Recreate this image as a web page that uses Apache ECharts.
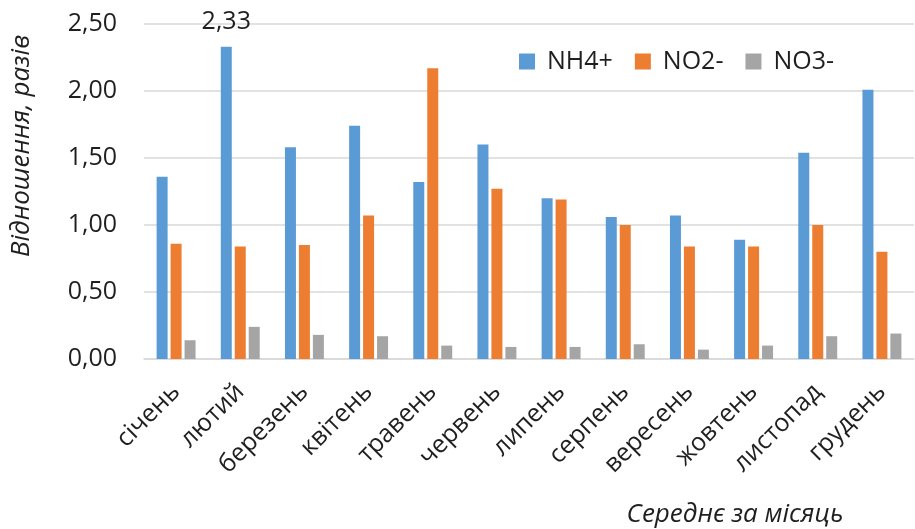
<!DOCTYPE html>
<html>
<head>
<meta charset="utf-8">
<script src="https://cdn.jsdelivr.net/npm/echarts@6/dist/echarts.min.js"></script>
<style>
html,body{margin:0;padding:0;background:#fff;}
#c{width:915px;height:529px;}
</style>
</head>
<body>
<div id="c"></div>
<script>
var months = ['січень','лютий','березень','квітень','травень','червень','липень','серпень','вересень','жовтень','листопад','грудень'];
var nh4 = [1.36, 2.33, 1.58, 1.74, 1.32, 1.60, 1.20, 1.06, 1.07, 0.89, 1.54, 2.01];
var no2 = [0.86, 0.84, 0.85, 1.07, 2.17, 1.27, 1.19, 1.00, 0.84, 0.84, 1.00, 0.80];
var no3 = [0.14, 0.24, 0.18, 0.17, 0.10, 0.09, 0.09, 0.11, 0.07, 0.10, 0.17, 0.19];
var yTickLabels = ['0,00','0,50','1,00','1,50','2,00','2,50'];
var seriesNames = ['NH4+','NO2-','NO3-'];
var labelledIndex = 1;

var FONT = 'Open Sans';
var TXT = '#1f1f1f';
var chart = echarts.init(document.getElementById('c'), null, {renderer:'canvas'});

function fmt(v){ return v.toFixed(2).replace('.', ','); }

var option = {
  animation: false,
  color: ['#5b9bd5','#ed7d31','#a5a5a5'],
  grid: {left:144, right:1, top:24, bottom:170, containLabel:false},
  legend: {
    left: 514, top: 44,
    itemWidth: 16, itemHeight: 16, itemGap: 22,
    icon: 'rect',
    data: seriesNames,
    textStyle: {fontFamily: FONT, fontSize: 25, color: TXT, padding:[0,0,0,7]}
  },
  xAxis: {
    type: 'category',
    data: months,
    axisLine: {lineStyle:{color:'#d9d9d9', width:1.5}},
    axisTick: {show:false},
    axisLabel: {rotate:45, fontFamily: FONT, fontSize:25, color:TXT, margin:29, interval:0}
  },
  yAxis: {
    type: 'value',
    min: 0, max: 2.5, interval: 0.5,
    axisLine: {show:false},
    axisTick: {show:false},
    splitLine: {lineStyle:{color:'#d9d9d9', width:1.5}},
    axisLabel: {fontFamily: FONT, fontSize:25, color:TXT, margin:27,
      formatter: function(v){ return yTickLabels[Math.round(v/0.5)]; }}
  },
  graphic: [
    {type:'text', x:22, y:146, rotation:Math.PI/2,
     style:{text:'Відношення, разів', font:'italic 26px "Open Sans"', fill:TXT, textAlign:'center', textVerticalAlign:'middle'}},
    {type:'text', x:735, y:515,
     style:{text:'Середнє за місяць', font:'italic 26px "Open Sans"', fill:TXT, textAlign:'center', textVerticalAlign:'middle'}}
  ],
  series: [
    {name:seriesNames[0], type:'bar', barWidth:11, barGap:'27%',
     data: nh4.map(function(v,i){ return i===labelledIndex ? {value:v, label:{show:true, position:'top', distance:12, fontFamily:FONT, fontSize:25, color:TXT, formatter:function(p){return fmt(p.value);}}} : v; })},
    {name:seriesNames[1], type:'bar', barWidth:11, barGap:'27%', data: no2},
    {name:seriesNames[2], type:'bar', barWidth:11, barGap:'27%', data: no3}
  ]
};
chart.setOption(option);
</script>
</body>
</html>
